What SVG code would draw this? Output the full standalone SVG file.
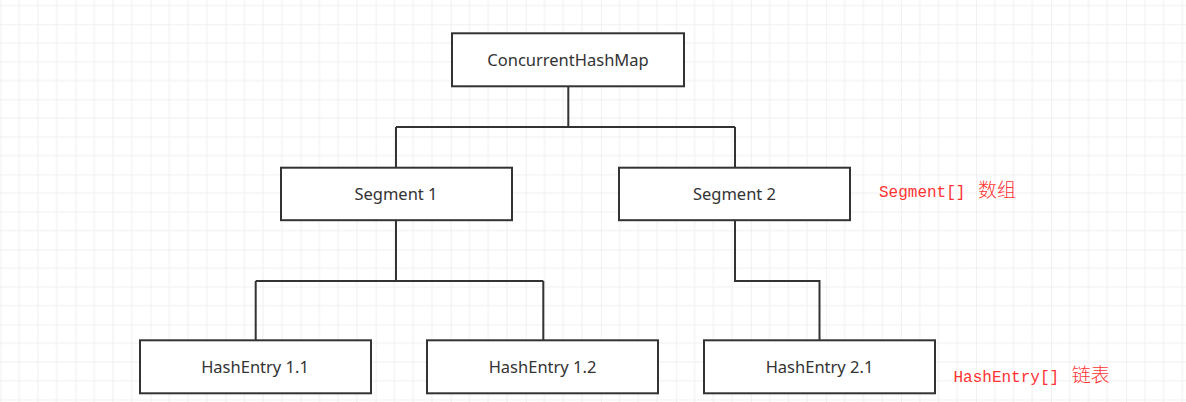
<svg xmlns="http://www.w3.org/2000/svg" width="1186" height="402" viewBox="0 0 1186 402">
<defs>
<pattern id="grid" patternUnits="userSpaceOnUse" x="0.46" y="24.3" width="75.04" height="75.04">
<path d="M18.76 0V75.04M37.52 0V75.04M56.28 0V75.04M0 18.76H75.04M0 37.52H75.04M0 56.28H75.04" stroke="#f0f0f0" stroke-width="1" fill="none"/>
<path d="M0 0V75.04M0 0H75.04" stroke="#e4e4e4" stroke-width="1" fill="none"/>
</pattern>
<style>
.box{fill:#ffffff;stroke:#333333;stroke-width:2}
.lbl{font-family:"Segoe UI","Noto Sans","Open Sans",sans-serif;font-size:16.5px;fill:#333333;text-anchor:middle}
.note{font-family:"Liberation Mono","Noto Sans CJK SC",monospace;font-size:16px;fill:#ff3333}
.cjk{font-family:"Noto Sans CJK SC",sans-serif;font-size:19px;font-weight:300}
.conn{fill:none;stroke:#333333;stroke-width:2}
</style>
</defs>
<rect width="1186" height="402" fill="#ffffff"/>
<rect width="1186" height="402" fill="url(#grid)"/>
<g id="connectors">
<path class="conn" d="M568.3 86.5V127M396 127H735M396 127V167.5M735 127V167.5"/>
<path class="conn" d="M396 220.5V281M255.7 281H543.3M255.7 281V340M543.3 281V340"/>
<path class="conn" d="M735 220.5V281H819.5V340"/>
</g>
<g id="chm"><rect class="box" x="452" y="33.3" width="232" height="53"/><text class="lbl" x="568" y="65.7">ConcurrentHashMap</text></g>
<g id="seg1"><rect class="box" x="281" y="167.7" width="231" height="52.5"/><text class="lbl" x="396" y="200">Segment 1</text></g>
<g id="seg2"><rect class="box" x="619" y="167.7" width="231" height="52.5"/><text class="lbl" x="734.5" y="200">Segment 2</text></g>
<g id="he11"><rect class="box" x="140" y="340.3" width="231" height="53"/><text class="lbl" x="255" y="372.7">HashEntry 1.1</text></g>
<g id="he12"><rect class="box" x="427" y="340.3" width="231" height="53"/><text class="lbl" x="542.5" y="372.7">HashEntry 1.2</text></g>
<g id="he21"><rect class="box" x="704" y="340.3" width="231" height="53"/><text class="lbl" x="819.5" y="372.7">HashEntry 2.1</text></g>
<g id="note-seg"><text class="note" x="879" y="196.5">Segment[] <tspan class="cjk" dx="3">数组</tspan></text></g>
<g id="note-he"><text class="note" x="953.5" y="382.3">HashEntry[] <tspan class="cjk" dx="3">链表</tspan></text></g>
</svg>
